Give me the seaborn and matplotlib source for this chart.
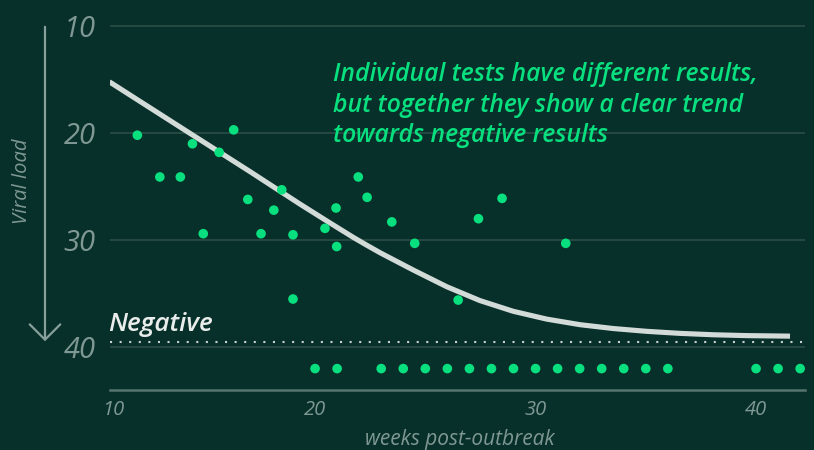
import matplotlib
matplotlib.use("Agg")
import matplotlib.pyplot as plt
import seaborn as sns
import pandas as pd
from matplotlib.patches import FancyArrowPatch

# ---------------- data ----------------
weeks_positive = [11.94, 12.96, 13.89, 14.44, 14.93, 15.65, 16.31, 16.95, 17.55, 18.13,
                  18.49, 19.00, 19.00, 20.45, 20.95, 20.98, 21.96, 22.36, 23.48, 24.52,
                  26.49, 27.41, 28.48, 31.37]
load_positive = [20.2, 24.1, 24.1, 21.0, 29.4, 21.8, 19.7, 26.2, 29.4, 27.2,
                 25.3, 29.5, 35.5, 28.9, 27.0, 30.6, 24.1, 26.0, 28.3, 30.3,
                 35.6, 28.0, 26.1, 30.3]

weeks_negative = [20, 21, 23, 24, 25, 26, 27, 28, 29, 30, 31, 32, 33, 34, 35, 36, 40, 41, 42]
negative_level = 42

trend_weeks = [10.67, 14.33, 17.05, 19.32, 20.68, 21.74, 22.34, 22.95, 24.46, 25.97,
               27.48, 28.99, 30.51, 32.02, 33.53, 35.04, 36.55, 38.06, 39.58, 41.54]
trend_load = [15.21, 20.03, 23.60, 26.64, 28.40, 29.75, 30.47, 31.18, 32.80, 34.35,
              35.65, 36.65, 37.38, 37.90, 38.26, 38.52, 38.71, 38.84, 38.92, 38.97]

negative_threshold = 39.5
y_ticks = [10, 20, 30, 40]
x_ticks = [20, 30, 40]
x_tick_labels = ["10", "20", "30", "40"]
annotation_lines = ["Individual tests have different results,",
                    "but together they show a clear trend",
                    "towards negative results"]

# ---------------- style ----------------
BG = "#08302a"
GREEN = "#08e07f"
GRID = "#2c4d46"
AXIS = "#56756e"
TICK = "#7f9893"
CURVE = "#d3dbd8"
FONT = ["Open Sans", "DejaVu Sans"]

sns.set_theme(style="dark", rc={"axes.facecolor": BG, "figure.facecolor": BG})
plt.rcParams["font.family"] = FONT

fig = plt.figure(figsize=(8.14, 4.5), dpi=100, facecolor=BG)
W, H = 814, 450
ax = fig.add_axes([110 / W, 60 / H, 695 / W, 369.35 / H], facecolor=BG)

for y in y_ticks:
    ax.axhline(y, color=GRID, lw=1.2, zorder=0)
ax.axhline(negative_threshold, color="#c9d1ce", lw=1.5, ls=(0, (1, 3.6)), zorder=1)

trend = pd.DataFrame({"week": trend_weeks, "load": trend_load})
sns.lineplot(data=trend, x="week", y="load", ax=ax, color=CURVE, lw=3.7,
             sort=False, estimator=None, zorder=2, solid_capstyle="butt",
             solid_joinstyle="round")

pos = pd.DataFrame({"week": weeks_positive, "load": load_positive})
sns.scatterplot(data=pos, x="week", y="load", ax=ax, s=48, color=GREEN,
                edgecolor="none", linewidth=0, zorder=3)
neg = pd.DataFrame({"week": weeks_negative, "load": [negative_level] * len(weeks_negative)})
sns.scatterplot(data=neg, x="week", y="load", ax=ax, s=48, color=GREEN,
                edgecolor="none", linewidth=0, zorder=3, clip_on=False)

left = 10.7
ax.set_xlim(left, 42.22)
ax.set_ylim(44, 9.5)

ax.set_yticks(y_ticks)
ax.set_yticklabels([str(v) for v in y_ticks], fontsize=21, style="italic", color=TICK)
ax.set_xticks([10.84] + x_ticks)
ax.set_xticklabels(x_tick_labels, fontsize=14.5, style="italic", color=TICK)
ax.tick_params(axis="y", length=0, pad=10.5)
ax.tick_params(axis="x", length=0, pad=7)
ax.set_xlabel("")
ax.set_ylabel("")
ax.grid(False)
for s in ["top", "right", "left"]:
    ax.spines[s].set_visible(False)
ax.spines["bottom"].set_color(AXIS)
ax.spines["bottom"].set_linewidth(1.8)

fig.text(459.5 / W, 1 - 440 / H, "weeks post-outbreak", ha="center", va="center",
         fontsize=15, style="italic", color=TICK)
fig.text(22 / W, 1 - 181 / H, "Viral load", ha="center", va="center", rotation=90,
         fontsize=14.5, style="italic", color=TICK)

for i, line in enumerate(annotation_lines):
    fig.text(333 / W, 1 - (81 + 30.7 * i) / H, line, ha="left", va="baseline",
             fontsize=17.8, style="italic", weight="semibold", color=GREEN)

fig.text(108 / W, 1 - 331 / H, "Negative", ha="left", va="baseline",
         fontsize=18.8, style="italic", weight="semibold", color="#e8ecea")

arrow = FancyArrowPatch((45 / W, 1 - 24 / H), (45 / W, 1 - 344 / H),
                        transform=fig.transFigure, arrowstyle="->,head_length=1.1,head_width=1.1",
                        mutation_scale=10, color="#87a09a", lw=1.6)
fig.add_artist(arrow)

fig.savefig("out.png", dpi=100, facecolor=BG)
